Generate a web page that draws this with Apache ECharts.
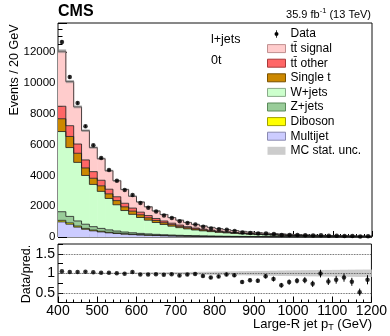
<!DOCTYPE html>
<html><head><meta charset="utf-8">
<script src="https://cdn.jsdelivr.net/npm/echarts@6/dist/echarts.min.js"></script>
<style>html,body{margin:0;padding:0;background:#fff}#c{width:390px;height:336px}</style>
</head><body><div id="c"></div>
<script>
// ---- data ----
const binLo = [400,420,440,460,480,500,520,540,560,580,600,620,640,660,680,700,720,740,760,780,
               800,820,840,860,880,900,920,940,960,980,1000,1020,1040,1060,1080,1100,1120,1140,1160,1180];
const xMax = 1200;
const ttSignal = [3570,2860,2410,1900,1560,1400,1200,1040,893,766,658,568,490,423,365,316,274,238,207,181,
                  158,138,121,106,94,83,73,65,57,51,46,41,36,32,29,26,23,21,19,17];
const ttOther  = [810,700,600,520,430,360,300,250,231,198,170,147,127,110,95,82,71,62,54,47,
                  41,36,31,28,24,21,19,17,15,13,12,10,9,8,7.5,6.8,6,5.5,5,4.5];
const singleT  = [830,720,590,490,400,360,300,270,240,206,177,153,132,114,98,85,74,64,56,49,
                  43,37,33,29,25,22,20,17,15,14,12,11,10,9,8,7,6.3,5.7,5.1,4.7];
const wJets    = [5200,4465,3800,3162,2740,2402,2038,1703,1393,1195,1031,892,769,665,575,497,430,372,325,284,
                  247,217,190,166.5,146.5,129.5,114.5,100.8,90.1,79.4,70.4,63.4,57.2,51,45.2,40.5,37.5,33.2,29.7,28];
const zJets    = [560,420,330,270,220,185,155,130,110,95,82,71,62,54,47,41,36,32,28,25,
                  22,19.5,17,15,13.5,12,10.5,9.5,8.5,7.5,6.8,6,5.4,4.8,4.3,3.9,3.5,3.1,2.8,2.5];
const diboson  = [100,85,70,58,50,43,37,32,28,25,22,19,17,15,13,12,11,10,9,8,
                  7,6.5,6,5.5,5,4.5,4,3.7,3.4,3.1,2.8,2.6,2.4,2.2,2,1.8,1.7,1.5,1.4,1.3];
const multijet = [980,830,640,500,400,330,270,225,185,155,130,110,93,79,67,57,49,42,36,31,
                  27,23,20,17,15,13,11,10,9,8,7,6,5,5,4,4,3,3,3,2];
const dataCounts = [12650,10380,8690,7180,5945,5130,4345,3650,3050,2720,2200,1900,1650,1400,1230,1025,915,805,665,555,
                    500,463,397,285,265,231,233,190,137,136,127,115,91,111,79,75,72,57,34,50];
const dataErr = [112,102,93,85,77,72,66,60,55,52,47,44,41,37,35,32,30,28,26,24,
                 22,22,20,17,16,15,15,14,12,12,11,11,10,11,9,9,8.5,7.5,6,7];
const mcStatRel = [0.010,0.010,0.011,0.012,0.012,0.013,0.014,0.015,0.017,0.018,0.020,0.022,0.024,0.026,0.028,0.030,0.033,0.036,0.038,0.041,
                   0.044,0.047,0.050,0.053,0.056,0.060,0.062,0.066,0.070,0.072,0.075,0.078,0.080,0.083,0.085,0.087,0.090,0.092,0.094,0.095];
const ratioTickLabels = ['0.5','1','1.5'];

// ---- build ----
const FONT = '"Liberation Sans", Arial, Helvetica, sans-serif';
const n = binLo.length;
const binHi = binLo.map((v,i)=> i<n-1 ? binLo[i+1] : xMax);
const centers = binLo.map((lo,i)=>(lo+binHi[i])/2);

const comps = [
  {name:'Multijet',  vals:multijet, color:'#ccccff'},
  {name:'Diboson',   vals:diboson,  color:'#ffff00'},
  {name:'Z+jets',    vals:zJets,    color:'#99cc99'},
  {name:'W+jets',    vals:wJets,    color:'#ccffcc'},
  {name:'Single t',  vals:singleT,  color:'#cc8800'},
  {name:'tt\u0304 other',  vals:ttOther,  color:'#ff6666'},
  {name:'tt\u0304 signal', vals:ttSignal, color:'#ffcccc'}
];

function stackRender(color){
  return function(params, api){
    const lo=api.value(0), hi=api.value(1), b=api.value(2), t=api.value(3), nt=api.value(4);
    const pb=api.coord([lo,b]), pt=api.coord([hi,t]), pn=api.coord([hi,nt]);
    const x0=pb[0], x1=pt[0];
    return {type:'group', children:[
      {type:'rect', shape:{x:x0, y:pt[1], width:x1-x0+0.5, height:pb[1]-pt[1]}, style:{fill:color}, z2:1},
      {type:'polyline', shape:{points:[[x0,pt[1]],[x1,pt[1]],[x1,pn[1]]]}, style:{stroke:'#1a1a1a', lineWidth:0.8, fill:null}, z2:30}
    ]};
  };
}

const series = [];
const cum = new Array(n).fill(0);
comps.forEach(c=>{
  const bottoms = cum.slice();
  const tops = c.vals.map((v,i)=>cum[i]+v);
  for (let i=0;i<n;i++) cum[i]=tops[i];
  series.push({
    type:'custom', name:c.name, xAxisIndex:0, yAxisIndex:0, z:2,
    itemStyle:{color:c.color}, renderItem:stackRender(c.color),
    encode:{x:[0,1], y:[2,3,4]},
    data: binLo.map((lo,i)=>[lo, binHi[i], bottoms[i], tops[i], i<n-1?tops[i+1]:tops[i]])
  });
});
const total = cum.slice();

function bandRender(fill){
  return function(params, api){
    const lo=api.value(0), hi=api.value(1), a=api.value(2), b=api.value(3);
    const p0=api.coord([lo,b]), p1=api.coord([hi,a]);
    return {type:'rect', shape:{x:p0[0], y:p0[1], width:p1[0]-p0[0]+0.3, height:p1[1]-p0[1]}, style:{fill:fill}};
  };
}
function errRender(params, api){
  const x=api.value(0), a=api.value(1), b=api.value(2);
  const p0=api.coord([x,a]), p1=api.coord([x,b]);
  return {type:'line', shape:{x1:p0[0], y1:p0[1], x2:p1[0], y2:p1[1]}, style:{stroke:'#000', lineWidth:1}};
}

// main panel: MC stat band, data
series.push({type:'custom', name:'MC stat. unc.', xAxisIndex:0, yAxisIndex:0, z:3,
  itemStyle:{color:'#cccccc'}, renderItem:bandRender('rgba(120,120,120,0.55)'), encode:{x:[0,1], y:[2,3]},
  data: binLo.map((lo,i)=>[lo, binHi[i], total[i]*(1-mcStatRel[i]), total[i]*(1+mcStatRel[i])])});
series.push({type:'custom', name:'Data', xAxisIndex:0, yAxisIndex:0, z:10, itemStyle:{color:'#000'},
  renderItem:errRender, encode:{x:0, y:[1,2]},
  data: centers.map((x,i)=>[x, dataCounts[i]-dataErr[i], dataCounts[i]+dataErr[i]])});
series.push({type:'scatter', name:'Data', xAxisIndex:0, yAxisIndex:0, z:11, symbolSize:4.5,
  itemStyle:{color:'#000'}, data: centers.map((x,i)=>[x, dataCounts[i]])});

// ratio panel
const ratio = dataCounts.map((d,i)=>d/total[i]);
const ratioErr = dataErr.map((e,i)=>e/total[i]);
series.push({type:'custom', name:'MC stat. unc.', xAxisIndex:1, yAxisIndex:1, z:3,
  itemStyle:{color:'#cccccc'}, renderItem:bandRender('#cccccc'), encode:{x:[0,1], y:[2,3]},
  data: binLo.map((lo,i)=>[lo, binHi[i], 1-mcStatRel[i], 1+mcStatRel[i]])});
series.push({type:'custom', name:'Data', xAxisIndex:1, yAxisIndex:1, z:10, itemStyle:{color:'#000'},
  renderItem:errRender, encode:{x:0, y:[1,2]},
  data: centers.map((x,i)=>[x, ratio[i]-ratioErr[i], ratio[i]+ratioErr[i]])});
series.push({type:'scatter', name:'Data', xAxisIndex:1, yAxisIndex:1, z:11, symbolSize:4.5,
  itemStyle:{color:'#000'}, data: centers.map((x,i)=>[x, ratio[i]]),
  markLine:{silent:true, symbol:'none', label:{show:false}, animation:false,
    lineStyle:{type:'dotted', color:'#333', width:0.8},
    data:[{yAxis:0.5},{yAxis:1},{yAxis:1.5}]}});

const tickStyle = {color:'#000', width:1};
const plain = v => String(v);
const option = {
  animation:false,
  textStyle:{fontFamily:FONT},
  grid:[
    {left:58, top:23, width:314, height:214, show:true, borderColor:'#111', borderWidth:1, backgroundColor:'transparent'},
    {left:58, top:244, width:314, height:58.5, show:true, borderColor:'#111', borderWidth:1, backgroundColor:'transparent'}
  ],
  xAxis:[
    {gridIndex:0, type:'value', min:400, max:xMax, interval:100, axisLabel:{show:false}, axisLine:{show:false},
     axisTick:{inside:true, length:6, lineStyle:tickStyle}, minorTick:{show:true, splitNumber:5, length:3, lineStyle:tickStyle},
     splitLine:{show:false}},
    {gridIndex:1, type:'value', min:400, max:xMax, interval:100,
     axisLabel:{fontSize:14, margin:2, color:'#000', fontFamily:FONT, formatter:plain}, axisLine:{show:false},
     axisTick:{inside:true, length:6, lineStyle:tickStyle}, minorTick:{show:true, splitNumber:5, length:3, lineStyle:tickStyle},
     splitLine:{show:false}}
  ],
  yAxis:[
    {gridIndex:0, type:'value', min:0, max:13880, interval:2000,
     axisLabel:{fontSize:11.5, margin:2.5, color:'#000', fontFamily:FONT, showMaxLabel:false, formatter:plain}, axisLine:{show:false},
     axisTick:{inside:true, length:9, lineStyle:tickStyle}, minorTick:{show:true, splitNumber:4, length:4.5, lineStyle:tickStyle},
     splitLine:{show:false}},
    {gridIndex:1, type:'value', min:0.25, max:1.75, interval:0.25,
     axisLabel:{fontSize:14, margin:3, color:'#000', fontFamily:FONT,
       formatter:v=>{const s=String(Math.round(v*100)/100); return ratioTickLabels.indexOf(s)>=0?s:'';}},
     axisLine:{show:false}, axisTick:{inside:true, length:5, lineStyle:tickStyle}, splitLine:{show:false}}
  ],
  legend:{
    orient:'vertical', left:267, top:28, itemWidth:18, itemHeight:8, itemGap:2.6, padding:0,
    selectedMode:false, textStyle:{fontSize:12, color:'#000', fontFamily:FONT},
    data:[
      {name:'Data', icon:'path://M0,0M18,8M8.6,0.3h0.8v7.4h-0.8zM11,4a2,2 0 1,1 -4,0a2,2 0 1,1 4,0z', itemStyle:{color:'#000', borderWidth:0}},
      {name:'tt\u0304 signal', icon:'rect', itemStyle:{color:'#ffcccc', borderColor:'#c09090', borderWidth:1}},
      {name:'tt\u0304 other', icon:'rect', itemStyle:{color:'#ff6666', borderColor:'#a83a3a', borderWidth:1}},
      {name:'Single t', icon:'rect', itemStyle:{color:'#cc8800', borderColor:'#7a5200', borderWidth:1}},
      {name:'W+jets', icon:'rect', itemStyle:{color:'#ccffcc', borderColor:'#8aaa8a', borderWidth:1}},
      {name:'Z+jets', icon:'rect', itemStyle:{color:'#99cc99', borderColor:'#5a8a5a', borderWidth:1}},
      {name:'Diboson', icon:'rect', itemStyle:{color:'#ffff00', borderColor:'#a0a000', borderWidth:1}},
      {name:'Multijet', icon:'rect', itemStyle:{color:'#ccccff', borderColor:'#8a8ab0', borderWidth:1}},
      {name:'MC stat. unc.', icon:'rect', itemStyle:{color:'#cccccc', borderWidth:0}}
    ]
  },
  graphic:[
    {type:'text', x:58, y:4, style:{text:'CMS', font:'bold 16px '+FONT, fill:'#000'}},
    {type:'text', x:371, y:15, style:{text:'{a|35.9 fb}{s|-1}{a| (13 TeV)}', align:'right', verticalAlign:'middle',
      rich:{a:{fontSize:11, fontFamily:FONT, fill:'#000'}, s:{fontSize:7.5, fontFamily:FONT, fill:'#000', padding:[0,0,8,0]}}}},
    {type:'text', x:211, y:40, style:{text:'l+jets', font:'12.5px '+FONT, fill:'#000', verticalAlign:'middle'}},
    {type:'text', x:211, y:61, style:{text:'0t', font:'12.5px '+FONT, fill:'#000', verticalAlign:'middle'}},
    {type:'text', x:15, y:70, rotation:Math.PI/2, style:{text:'Events / 20 GeV', font:'12.5px '+FONT, fill:'#000', align:'center', verticalAlign:'middle'}},
    {type:'text', x:27, y:274, rotation:Math.PI/2, style:{text:'Data/pred.', font:'12.5px '+FONT, fill:'#000', align:'center', verticalAlign:'middle'}},
    {type:'text', x:372, y:324, style:{text:'{a|Large-R jet p}{s|T}{a| (GeV)}', align:'right', verticalAlign:'middle',
      rich:{a:{fontSize:13, fontFamily:FONT, fill:'#000'}, s:{fontSize:9, fontFamily:FONT, fill:'#000', padding:[8,0,0,0]}}}}
  ],
  series: series
};
const chart = echarts.init(document.getElementById('c'), null, {renderer:'canvas'});
chart.setOption(option);
</script></body></html>
